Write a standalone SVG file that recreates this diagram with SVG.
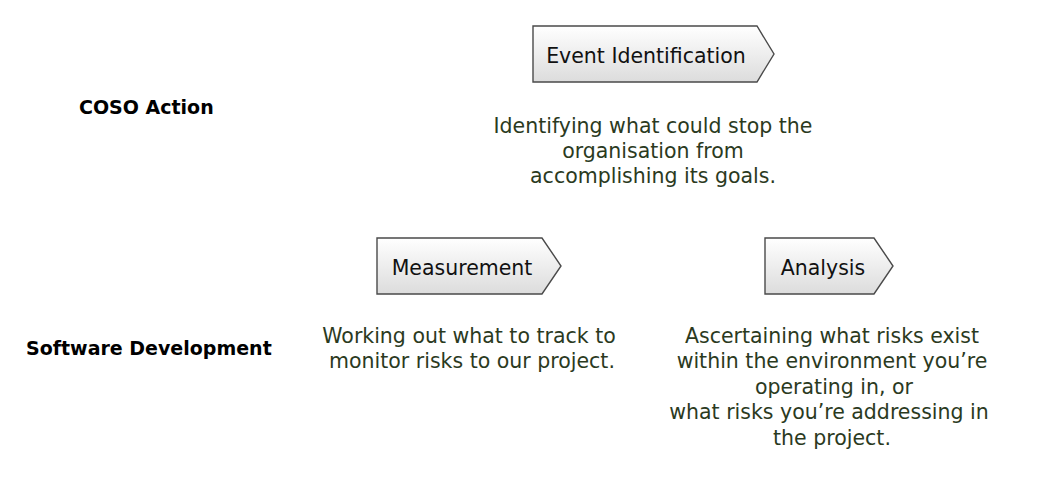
<svg xmlns="http://www.w3.org/2000/svg" width="1039" height="501" viewBox="0 0 1039 501">
<style>
.box{stroke:#4a4a4a;stroke-width:1.4;fill:url(#g)}
.lbl{font-family:"DejaVu Sans","Liberation Sans",sans-serif;font-size:20.5px;fill:#111;text-anchor:middle}
.desc{font-family:"DejaVu Sans","Liberation Sans",sans-serif;font-size:20.5px;fill:#2b3a1e;text-anchor:middle}
.row{font-family:"DejaVu Sans","Liberation Sans",sans-serif;font-size:19px;font-weight:bold;fill:#000}
</style>
<defs>
<linearGradient id="g" x1="0" y1="0" x2="0" y2="1">
<stop offset="0" stop-color="#ffffff"/>
<stop offset="1" stop-color="#dcdcdc"/>
</linearGradient>
</defs>
<rect width="1039" height="501" fill="#fff"/>
<g id="row-coso"><text class="row" x="79" y="114">COSO Action</text></g>
<g id="row-sd"><text class="row" x="26" y="355">Software Development</text></g>
<g id="event-identification">
<path class="box" d="M533,26 H757 L774,54 L757,82 H533 Z"/>
<text class="lbl" x="646" y="63">Event Identification</text>
<text class="desc" x="653" y="133">Identifying what could stop the</text>
<text class="desc" x="653" y="158">organisation from</text>
<text class="desc" x="653" y="183">accomplishing its goals.</text>
</g>
<g id="measurement">
<path class="box" d="M377,238 H542 L561,266 L542,294 H377 Z"/>
<text class="lbl" x="462" y="275">Measurement</text>
<text class="desc" x="469" y="343">Working out what to track to</text>
<text class="desc" x="472" y="368">monitor risks to our project.</text>
</g>
<g id="analysis">
<path class="box" d="M765,238 H874 L893,266 L874,294 H765 Z"/>
<text class="lbl" x="823" y="275">Analysis</text>
<text class="desc" x="832" y="343">Ascertaining what risks exist</text>
<text class="desc" x="832" y="368">within the environment you’re</text>
<text class="desc" x="834" y="394">operating in, or</text>
<text class="desc" x="829" y="419">what risks you’re addressing in</text>
<text class="desc" x="832" y="445">the project.</text>
</g>
<g id="connectors"></g>
</svg>
